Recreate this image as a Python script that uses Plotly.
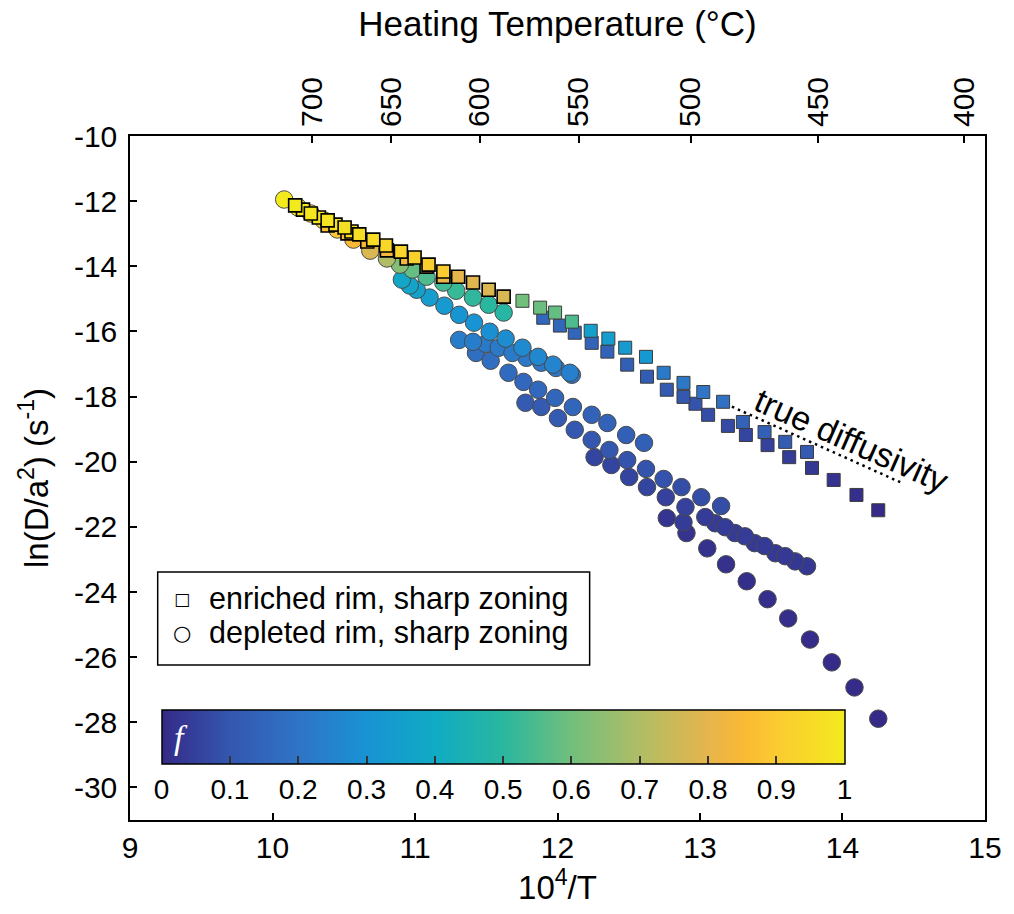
import numpy as np
import plotly.graph_objects as go

FONT = "Liberation Sans, Arial, Helvetica, sans-serif"

# ---- depleted rim, sharp zoning (circles): 10^4/T, ln(D/a^2), released fraction f ----
dep_x = [14.251, 14.084, 13.925, 13.772, 13.619, 13.474, 13.328, 13.183, 13.051, 12.905, 12.767,
         13.037, 13.176, 13.315, 13.453, 13.598, 13.751, 13.668, 13.529, 13.384, 13.245, 13.107, 12.884,
         12.260, 12.378, 12.503, 12.628, 12.760, 12.898,
         11.775, 11.886, 12.003, 12.121, 12.240, 12.364, 12.489, 12.621, 12.745, 12.870, 13.009, 13.148,
         11.428, 11.531, 11.656, 11.761, 11.864, 11.983, 12.108, 12.240, 12.350, 12.482, 12.607,
         11.310, 11.407, 11.497, 11.587, 11.684, 11.782, 11.886, 11.989, 12.101,
         10.908, 10.963, 11.012, 11.102, 11.206, 11.310, 11.414, 11.524, 11.636, 11.754, 11.864, 11.969, 12.087,
         10.082, 10.179, 10.269, 10.360, 10.456, 10.568, 10.686, 10.803, 10.894, 10.983, 11.081, 11.199,
         11.289, 11.407, 11.517, 11.622]
dep_y = [-27.89, -26.93, -26.16, -25.46, -24.81, -24.22, -23.67, -23.15, -22.66, -22.19, -21.73,
         -21.70, -22.01, -22.29, -22.59, -22.90, -23.21, -23.06, -22.81, -22.50, -22.19, -21.89, -21.86,
         -19.86, -20.10, -20.47, -20.78, -21.09, -21.39,
         -18.19, -18.32, -18.66, -19.02, -19.33, -19.64, -19.95, -20.22, -20.53, -20.78, -21.09, -21.36,
         -16.66, -16.90, -17.27, -17.55, -17.79, -18.04, -18.32, -18.56, -18.81, -19.18, -19.42,
         -16.26, -16.32, -16.38, -16.50, -16.66, -16.81, -16.96, -17.12, -17.33,
         -14.41, -14.59, -14.72, -14.96, -15.21, -15.49, -15.73, -16.01, -16.22, -16.50, -16.78, -17.02, -17.27,
         -11.95, -12.19, -12.38, -12.59, -12.87, -13.18, -13.52, -13.76, -13.95, -14.10, -14.32, -14.50,
         -14.75, -14.96, -15.18, -15.42]
dep_f = [0.000, 0.002, 0.004, 0.006, 0.008, 0.010, 0.012, 0.015, 0.018, 0.020, 0.022,
         0.040, 0.040, 0.038, 0.036, 0.034, 0.030, 0.030, 0.032, 0.034, 0.036, 0.038, 0.040,
         0.06, 0.06, 0.06, 0.06, 0.05, 0.05,
         0.11, 0.11, 0.11, 0.10, 0.10, 0.10, 0.09, 0.09, 0.09, 0.08, 0.08, 0.08,
         0.18, 0.18, 0.17, 0.16, 0.16, 0.15, 0.15, 0.14, 0.14, 0.13, 0.13,
         0.23, 0.23, 0.22, 0.22, 0.22, 0.21, 0.21, 0.21, 0.20,
         0.38, 0.37, 0.36, 0.34, 0.33, 0.31, 0.30, 0.29, 0.28, 0.27, 0.26, 0.25, 0.24,
         1.00, 0.98, 0.96, 0.93, 0.90, 0.85, 0.78, 0.70, 0.63, 0.58, 0.55, 0.53,
         0.52, 0.51, 0.50, 0.49]

# ---- enriched rim, sharp zoning (squares) ----
enr_x = [10.159, 10.214, 10.269, 10.325, 10.387, 10.442, 10.506, 10.554, 10.609, 10.707, 10.796,
         10.901, 10.997, 11.095, 11.199, 11.303, 11.407, 11.517, 11.622, 11.754, 11.878, 11.983,
         12.101, 12.233, 12.357, 12.475, 12.621, 12.745, 12.884, 13.023, 13.162,
         10.387, 10.526, 10.665, 10.803, 10.942, 11.081, 11.199,
         13.301, 13.453, 13.598, 13.751,
         11.900, 12.017, 12.121, 12.240, 12.350, 12.489, 12.628, 12.767, 12.884, 12.968, 13.057,
         13.196, 13.322, 13.474, 13.626, 13.786,
         13.938, 14.098, 14.251]
enr_y = [-12.13, -12.26, -12.38, -12.50, -12.59, -12.72, -12.81, -12.93, -13.02, -13.18, -13.36,
         -13.55, -13.73, -13.95, -14.16, -14.32, -14.50, -14.72, -14.93, -15.06, -15.27, -15.42,
         -15.70, -15.98, -16.22, -16.50, -16.78, -17.27, -17.58, -17.86, -18.16,
         -12.75, -12.99, -13.24, -13.51, -13.76, -14.01, -14.32,
         -18.78, -19.09, -19.39, -19.70,
         -15.58, -15.82, -16.04, -16.35, -16.62, -17.02, -17.39, -17.79, -18.01, -18.22, -18.56,
         -18.90, -19.18, -19.49, -19.86, -20.19,
         -20.56, -21.02, -21.49]
enr_f = [1.00, 0.99, 0.99, 0.98, 0.98, 0.97, 0.97, 0.96, 0.96, 0.95, 0.94,
         0.93, 0.92, 0.91, 0.90, 0.80, 0.79, 0.78, 0.77, 0.60, 0.59, 0.58,
         0.55, 0.35, 0.34, 0.33, 0.32, 0.22, 0.21, 0.20, 0.19,
         0.86, 0.85, 0.85, 0.84, 0.83, 0.82, 0.81,
         0.14, 0.13, 0.12, 0.11,
         0.16, 0.15, 0.15, 0.14, 0.14, 0.13, 0.12, 0.11, 0.10, 0.09, 0.08,
         0.07, 0.06, 0.05, 0.04, 0.03,
         0.02, 0.01, 0.00]

# ---- true diffusivity reference line ----
true_x = [13.224, 14.421]
true_y = [-18.31, -20.66]

# ---- tick definitions ----
x_ticks = [9, 10, 11, 12, 13, 14, 15]
y_ticks = [-30, -28, -26, -24, -22, -20, -18, -16, -14, -12, -10]
temp_c = [700, 650, 600, 550, 500, 450, 400]
cbar_ticks = [0, 0.1, 0.2, 0.3, 0.4, 0.5, 0.6, 0.7, 0.8, 0.9, 1]

parula = [
    [0.00, "#352a87"], [0.10, "#3457b0"], [0.20, "#2f74c6"], [0.30, "#1893d3"],
    [0.40, "#10abc4"], [0.50, "#2ab79f"], [0.60, "#72bf7c"], [0.70, "#b0bd65"],
    [0.80, "#e6b54c"], [0.85, "#f9b935"], [0.90, "#fbcb31"], [1.00, "#f3ea1d"],
]


def by_f(xs, ys, fs):
    """Return arrays ordered so that higher-f markers are drawn on top."""
    o = np.argsort(np.asarray(fs), kind="stable")
    return np.asarray(xs)[o], np.asarray(ys)[o], np.asarray(fs)[o]


fig = go.Figure()

cx, cy, cf = by_f(dep_x, dep_y, dep_f)
fig.add_trace(go.Scatter(
    x=cx, y=cy, mode="markers", showlegend=False, hoverinfo="skip",
    marker=dict(
        symbol="circle", size=17.5, color=cf, colorscale=parula, cmin=0, cmax=1,
        line=dict(color="#4a4a4a", width=1),
        showscale=True,
        colorbar=dict(
            orientation="h", x=0.4364, xanchor="center", y=0.1608, yanchor="top",
            len=683, lenmode="pixels", thickness=54, thicknessmode="pixels",
            xpad=0, ypad=0, outlinewidth=1.5, outlinecolor="black",
            tickvals=cbar_ticks, ticktext=[f"{v:g}" for v in cbar_ticks],
            ticks="inside", ticklen=8, tickwidth=1.5, tickcolor="#333333",
            tickfont=dict(family=FONT, size=28, color="black"),
        ),
    ),
))

sx, sy, sf = by_f(enr_x, enr_y, enr_f)
fig.add_trace(go.Scatter(
    x=sx, y=sy, mode="markers", showlegend=False, hoverinfo="skip",
    marker=dict(
        symbol="square", size=13, color=sf, colorscale=parula, cmin=0, cmax=1,
        line=dict(color=["black" if v >= 0.75 else "#3c3c3c" for v in sf],
                  width=[1.6 if v >= 0.75 else 1.0 for v in sf]),
        showscale=False,
    ),
))

fig.add_trace(go.Scatter(
    x=true_x, y=true_y, mode="lines", showlegend=False, hoverinfo="skip",
    line=dict(color="black", width=2.5, dash="2.5px,4px"),
))

# empty trace that carries the temperature axis along the top
fig.add_trace(go.Scatter(x=[None], y=[None], xaxis="x2", yaxis="y", mode="markers",
                         showlegend=False, hoverinfo="skip"))

fig.add_annotation(x=14.06, y=-19.33, xref="x", yref="y", text="true diffusivity",
                   showarrow=False, textangle=24,
                   font=dict(family=FONT, size=34, color="black"))

# legend box
fig.add_shape(type="rect", xref="paper", yref="paper", x0=0.0324, x1=0.5376, y0=0.2266, y1=0.3626,
              line=dict(color="black", width=1.5), fillcolor="white", layer="above")
legend_rows = [("\u25a1", "enriched rim, sharp zoning", 0.3231, 17),
               ("\u25cb", "depleted rim, sharp zoning", 0.2734, 21)]
for sym, label, yp, ssize in legend_rows:
    fig.add_annotation(x=0.0613, y=yp, xref="paper", yref="paper", text=sym, showarrow=False,
                       xanchor="center", yanchor="middle",
                       font=dict(family="DejaVu Sans", size=ssize, color="black"))
    fig.add_annotation(x=0.0902, y=yp, xref="paper", yref="paper", text=label, showarrow=False,
                       xanchor="left", yanchor="middle",
                       font=dict(family=FONT, size=30.5, color="black"))

# colour-bar symbol
fig.add_annotation(x=0.0600, y=0.1213, xref="paper", yref="paper", text="<i>f</i>", showarrow=False,
                   xanchor="center", yanchor="middle",
                   font=dict(family="Liberation Serif, DejaVu Serif, serif", size=34, color="white"))

axis_common = dict(showgrid=False, zeroline=False, ticks="inside", ticklen=7, tickwidth=1.5,
                   tickcolor="black")

fig.update_layout(
    width=1014, height=914,
    margin=dict(l=130, r=19, t=136, b=94),
    paper_bgcolor="white", plot_bgcolor="white",
    font=dict(family=FONT, color="black"),
    xaxis=dict(range=[8.9999, 15.0001], tickvals=x_ticks, ticktext=[str(v) for v in x_ticks],
               showline=True, linecolor="black", linewidth=1.5, mirror=True,
               tickfont=dict(size=30), ticklabelstandoff=0,
               title=dict(text="10<sup>4</sup>/T", font=dict(size=33), standoff=1),
               **axis_common),
    xaxis2=dict(range=[8.9999, 15.0001], overlaying="x", side="top", anchor="y",
                tickvals=[1e4 / (t + 273.15) for t in temp_c], ticktext=[str(t) for t in temp_c],
                tickangle=-90, showline=False, tickfont=dict(size=30), ticklabelstandoff=8,
                title=dict(text="Heating Temperature (\u00b0C)", font=dict(size=35), standoff=29),
                **axis_common),
    yaxis=dict(range=[-31, -10], tickvals=y_ticks, ticktext=[str(v) for v in y_ticks],
               showline=True, linecolor="black", linewidth=1.5, mirror=True,
               tickfont=dict(size=30), ticklabelstandoff=5,
               title=dict(text="ln(D/a<sup>2</sup>) (s<sup>-1</sup>)", font=dict(size=33), standoff=15),
               **axis_common),
)

fig.write_html("out.html")
